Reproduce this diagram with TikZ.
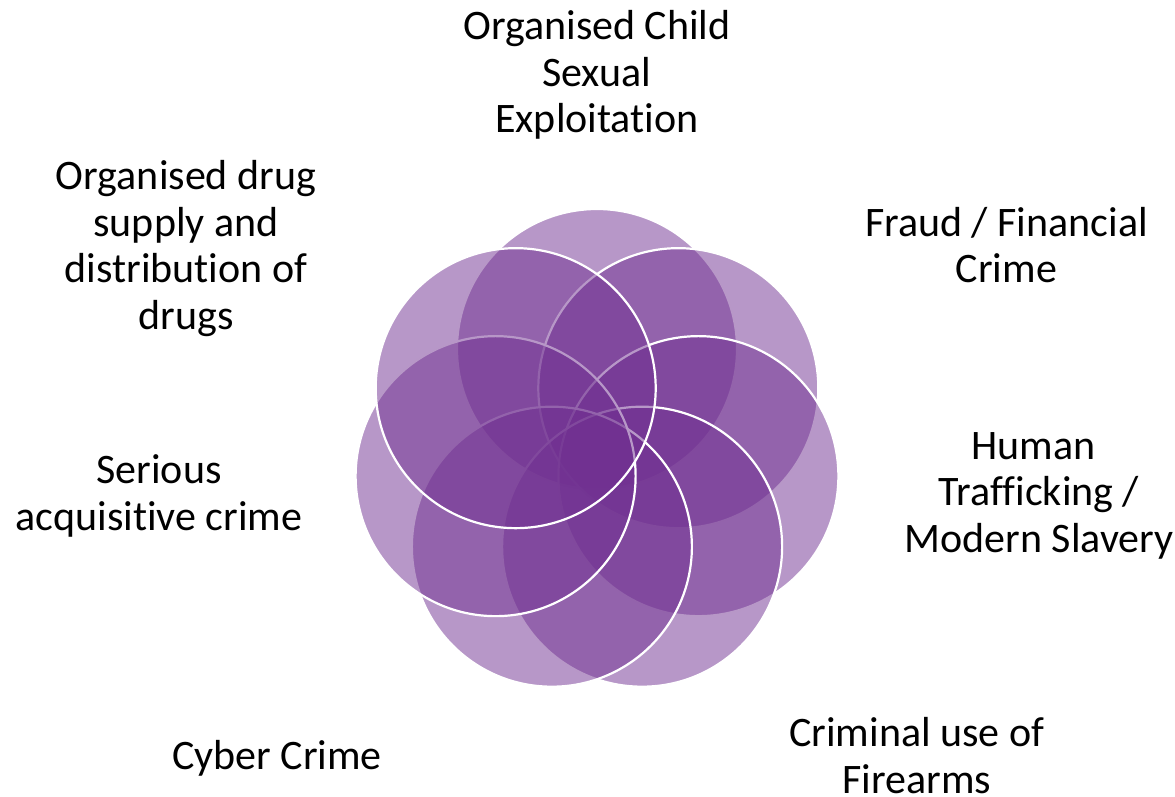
\documentclass[tikz,border=0pt]{standalone}
\usepackage{fontspec}
\setmainfont{Carlito}[RawFeature={-liga;-calt;-clig;-dlig}]
\definecolor{petalpurple}{RGB}{112,48,145}
\tikzset{
  petal/.style={circle, minimum size=280pt, inner sep=0pt, outer sep=0pt,
    fill=petalpurple, fill opacity=0.5, draw=white, draw opacity=1, line width=2.2pt},
  lab/.style={font=\fontsize{42}{46.5}\selectfont, align=center, inner sep=0pt,
    anchor=north, text=black}
}
\begin{document}
\begin{tikzpicture}[x=1pt,y=-1pt]
\useasboundingbox (0,0) rectangle (1175,797);
\foreach \k in {1,...,7}{
  \pgfmathsetmacro{\ang}{90-(\k-1)*360/7}
  \node[petal] (c\k) at ({597+104*cos(\ang)},{453-104*sin(\ang)}) {};
}
\def\sh{32.55}
\node[lab] (l1) at (597,39.3-\sh) {\strut Organised Child\\Sexual\\Exploitation};
\node[lab] (l2) at (1006.5,236-\sh) {\strut Fraud / Financial\\Crime};
\node[lab] (l3) at (1039,459-\sh) {\strut Human\hspace*{11pt}\\Trafficking /\\Modern Slavery};
\node[lab] (l4) at (916.8,746.7-\sh) {\strut Criminal use of\\Firearms};
\node[lab] (l5) at (277,769-\sh) {\strut Cyber Crime};
\node[lab] (l6) at (159,483.3-\sh) {\strut Serious\\acquisitive crime};
\node[lab] (l7) at (186,189.3-\sh) {\strut Organised drug\\supply and\\distribution of\\drugs};
\end{tikzpicture}
\end{document}
